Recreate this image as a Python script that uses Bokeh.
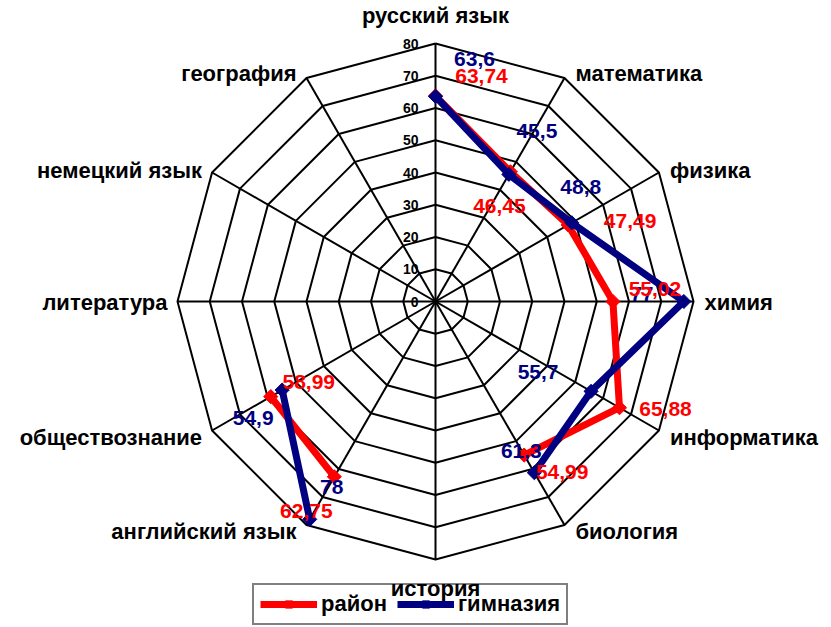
import numpy as np
from bokeh.plotting import figure
from bokeh.models import Range1d, ColumnDataSource, Legend, LegendItem
from bokeh.core.properties import value
from bokeh.embed import file_html
from bokeh.resources import INLINE

# ---- data ----
categories = ["русский язык", "математика", "физика", "химия", "информатика", "биология",
              "история", "английский язык", "обществознание", "литература", "немецкий язык", "география"]
rayon = [63.74, 46.45, 47.49, 55.02, 65.88, 54.99, None, 62.75, 58.99, None, None, None]
gimnaziya = [63.6, 45.5, 48.8, 77, 55.7, 61.3, None, 78, 54.9, None, None, None]
ticks = [0, 10, 20, 30, 40, 50, 60, 70, 80]
series_names = ["район", "гимназия"]

# ---- styling / layout ----
FONT_NAME = "Liberation Sans"
FONT = value(FONT_NAME)
CX, CY = 435, 301           # screen position of centre
RMAX_PX = 258               # pixels for value 80
VMAX = 80
W, H = 829, 625
K = RMAX_PX / VMAX

n = len(categories)
angles = np.deg2rad(90 - 30 * np.arange(n))

p = figure(width=W, height=H, output_backend="svg", toolbar_location=None,
           x_axis_type=None, y_axis_type=None, min_border=0,
           x_range=Range1d(-CX, W - CX), y_range=Range1d(-(H - CY), CY))
p.outline_line_color = None
p.grid.visible = False
p.background_fill_color = "white"

# grid polygons
for t in ticks[1:]:
    r = t * K
    xs = list(r * np.cos(angles)) + [r * np.cos(angles[0])]
    ys = list(r * np.sin(angles)) + [r * np.sin(angles[0])]
    p.line(xs, ys, line_color="black", line_width=2)
# spokes
p.segment(x0=[0] * n, y0=[0] * n, x1=list(VMAX * K * np.cos(angles)), y1=list(VMAX * K * np.sin(angles)),
          line_color="black", line_width=2)

# tick labels
p.text(x=[0] * len(ticks), y=[t * K for t in ticks], text=[str(t) for t in ticks],
       text_font=FONT, text_font_style="bold", text_font_size="14px", text_color="black",
       text_align="right", text_baseline="middle", x_offset=-17)

# category labels
cat_x, cat_y, cat_align, cat_xo, cat_yo = [], [], [], [], []
for i, a in enumerate(angles):
    c, s = np.cos(a), np.sin(a)
    cat_x.append(VMAX * K * c)
    cat_y.append(VMAX * K * s)
    if abs(c) < 1e-6:
        cat_align.append("center")
        cat_xo.append(0)
        cat_yo.append(-28 if s > 0 else 29)
    elif c > 0:
        cat_align.append("left")
        cat_xo.append(11)
        cat_yo.append(-6 * s + 1 if s >= 0 else 7 if s < -0.1 else 1)
    else:
        cat_align.append("right")
        cat_xo.append(-10)
        cat_yo.append(-6 * s + 1 if s >= 0 else 7 if s < -0.1 else 1)
cat_src = ColumnDataSource(dict(x=cat_x, y=cat_y, text=categories, align=cat_align, xo=cat_xo, yo=cat_yo))
p.text(x="x", y="y", text="text", source=cat_src, text_align="align", x_offset="xo", y_offset="yo",
       text_font=FONT, text_font_style="bold", text_font_size="22px", text_color="black",
       text_baseline="middle")


def xy(vals):
    xs, ys = [], []
    for v, a in zip(vals, angles):
        if v is None:
            xs.append(np.nan)
            ys.append(np.nan)
        else:
            xs.append(v * K * np.cos(a))
            ys.append(v * K * np.sin(a))
    return xs, ys


colors = ["#FF0000", "#000080"]
renders = []
for vals, col in zip([rayon, gimnaziya], colors):
    xs, ys = xy(vals)
    ln = p.line(xs, ys, line_color=col, line_width=7)
    mk = p.scatter([x for x in xs if not np.isnan(x)], [y for y in ys if not np.isnan(y)],
                   marker="square", angle=np.pi / 4, size=10, fill_color=col, line_color=col, line_width=1)
    renders.append([ln, mk])

# data labels (pixel offsets for label placement, screen-down positive)
lab_off = {
    "район": [(46, -20), (-11, 34), (62, -4), (42, -13), (46, 1), (38, 17), None, (-28, 34), (38, -15), None, None, None],
    "гимназия": [(39, -37), (28, -43), (9, -36), (-42, -8), (-53, -19), (-13, -22), None, (22, -32), (-29, 28), None, None, None],
}
for vals, col, name in [(gimnaziya, colors[1], "гимназия"), (rayon, colors[0], "район")]:
    xs, ys = xy(vals)
    lx, ly, lt, lxo, lyo = [], [], [], [], []
    for v, x, y, off in zip(vals, xs, ys, lab_off[name]):
        if v is None:
            continue
        lx.append(x); ly.append(y)
        lt.append(f"{v:g}".replace(".", ","))
        lxo.append(off[0]); lyo.append(off[1])
    src = ColumnDataSource(dict(x=lx, y=ly, text=lt, xo=lxo, yo=lyo))
    p.text(x="x", y="y", text="text", source=src, x_offset="xo", y_offset="yo",
           text_font=FONT, text_font_style="bold", text_font_size="21px", text_color=col,
           text_align="center", text_baseline="middle")

legend = Legend(items=[LegendItem(label=series_names[0], renderers=renders[0]),
                       LegendItem(label=series_names[1], renderers=renders[1])],
                location=(252, 0), orientation="horizontal",
                border_line_color="black", border_line_width=2,
                label_text_font=FONT_NAME, label_text_font_style="bold", label_text_font_size="22px",
                label_text_color="black", label_height=18,
                glyph_width=57, glyph_height=18, label_standoff=4, spacing=10,
                padding=6, margin=0, background_fill_alpha=0)
p.add_layout(legend)

open("out.html", "w").write(file_html(p, INLINE))
